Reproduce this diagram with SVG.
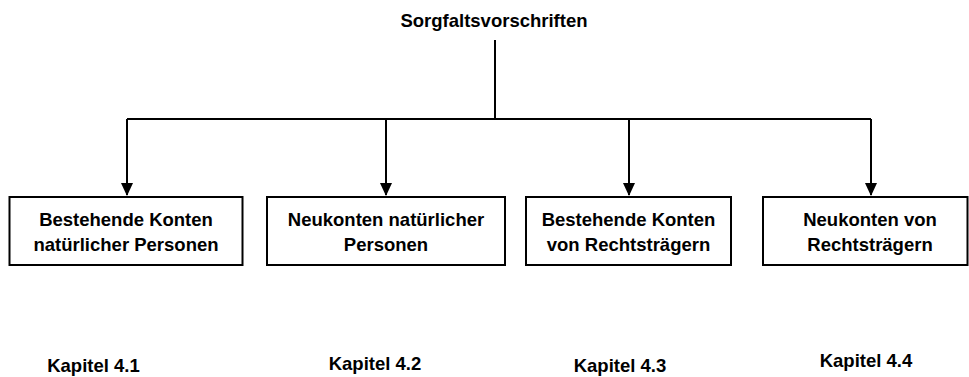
<svg xmlns="http://www.w3.org/2000/svg" width="969" height="377" viewBox="0 0 969 377">
<style>
text{font-family:"Liberation Sans",Arial,sans-serif;font-weight:bold;font-size:18.5px;fill:#000;text-anchor:middle}
.box{fill:#fff;stroke:#000;stroke-width:2}
.ln{fill:none;stroke:#000;stroke-width:2}
</style>
<defs>
<marker id="ah" markerUnits="userSpaceOnUse" markerWidth="13" markerHeight="12" refX="12" refY="6" orient="auto" viewBox="0 0 13 12">
<path d="M0,0 L13,6 L0,12 Z" fill="#000"/>
</marker>
</defs>
<rect width="969" height="377" fill="#fff"/>
<g id="root"><text x="494" y="27">Sorgfaltsvorschriften</text></g>
<g id="connectors">
<path class="ln" d="M495,40 V119"/>
<path class="ln" d="M127,119 H871"/>
<path class="ln" d="M127,119 V195" marker-end="url(#ah)"/>
<path class="ln" d="M386,119 V195" marker-end="url(#ah)"/>
<path class="ln" d="M629,119 V195" marker-end="url(#ah)"/>
<path class="ln" d="M871,119 V195" marker-end="url(#ah)"/>
</g>
<g id="n1"><rect class="box" x="9.5" y="197" width="233" height="68"/><text x="126" y="226">Bestehende Konten</text><text x="126" y="251">natürlicher Personen</text></g>
<g id="n2"><rect class="box" x="267" y="197" width="238" height="68"/><text x="386" y="226">Neukonten natürlicher</text><text x="386" y="251">Personen</text></g>
<g id="n3"><rect class="box" x="526" y="197" width="205" height="68"/><text x="628.5" y="226">Bestehende Konten</text><text x="628.5" y="251">von Rechtsträgern</text></g>
<g id="n4"><rect class="box" x="763" y="197" width="204.5" height="68"/><text x="870" y="226">Neukonten von</text><text x="870" y="251">Rechtsträgern</text></g>
<g id="k1"><text x="93.5" y="372">Kapitel 4.1</text></g>
<g id="k2"><text x="375" y="370">Kapitel 4.2</text></g>
<g id="k3"><text x="620" y="372">Kapitel 4.3</text></g>
<g id="k4"><text x="866" y="367">Kapitel 4.4</text></g>
</svg>
